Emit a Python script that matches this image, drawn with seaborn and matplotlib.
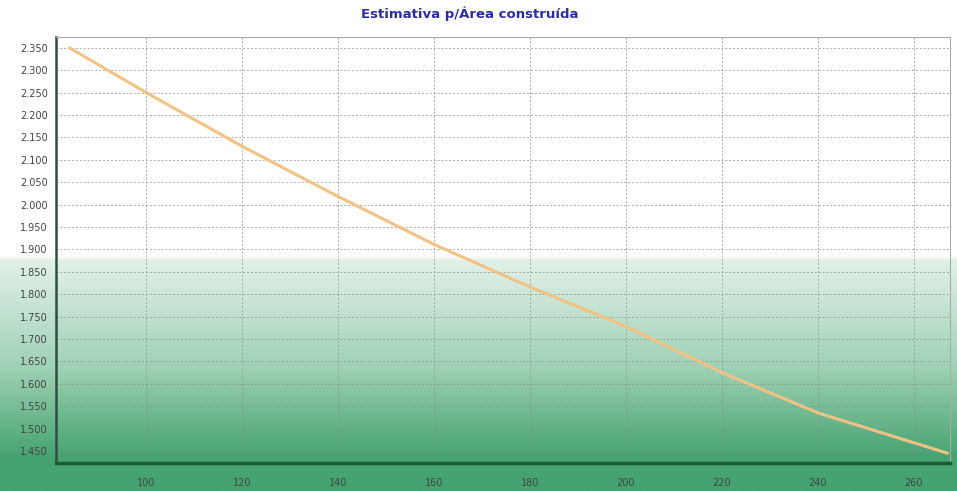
import numpy as np
import pandas as pd
import matplotlib
matplotlib.use('Agg')
from matplotlib import pyplot as plt
from matplotlib.colors import LinearSegmentedColormap
from matplotlib.ticker import FuncFormatter
import seaborn as sns

# Data
area = [84, 100, 120, 140, 160, 180, 200, 220, 240, 267]
estimativa = [2350, 2250, 2130, 2018, 1911, 1816, 1728, 1625, 1535, 1445]
x_ticks = [100, 120, 140, 160, 180, 200, 220, 240, 260]
y_ticks = list(range(1450, 2351, 50))

df = pd.DataFrame({'Area': area, 'Estimativa': estimativa})

sns.set_theme(style='white')
plt.rcParams['font.family'] = ['DejaVu Sans']

fig = plt.figure(figsize=(9.57, 4.91), dpi=100)

# background gradient: white on top, green towards the bottom
bg = fig.add_axes([0, 0, 1, 1], zorder=0)
bg.set_axis_off()
cmap = LinearSegmentedColormap.from_list('bg', [
    (0.0, '#ffffff'), (0.52, '#ffffff'), (0.53, '#e2f1e8'),
    (0.75, '#9fd1b5'), (0.93, '#47a373'), (1.0, '#45a271')])
grad = np.linspace(0, 1, 500).reshape(-1, 1)
bg.imshow(grad, aspect='auto', cmap=cmap, extent=[0, 1, 0, 1], origin='upper')
bg.set_xlim(0, 1)
bg.set_ylim(0, 1)

ax = fig.add_axes([0.0585, 0.057, 0.934, 0.8676], zorder=1)
ax.patch.set_alpha(0)

sns.lineplot(data=df, x='Area', y='Estimativa', ax=ax, color='#f2c285', linewidth=2.2)

ax.set_xlim(81.2, 267.5)
ax.set_ylim(1423, 2374)
ax.set_xticks(x_ticks)
ax.set_yticks(y_ticks)
ax.yaxis.set_major_formatter(FuncFormatter(lambda v, p: f'{int(v):,}'.replace(',', '.')))
ax.tick_params(axis='both', labelsize=7, colors='#444444', length=3, direction='out')
ax.tick_params(axis='y', pad=3)
ax.tick_params(axis='x', pad=8)
ax.set_xlabel('')
ax.set_ylabel('')
ax.grid(True, linestyle=(0, (2, 2)), color='#8a8a8a', linewidth=0.7, alpha=0.7)

for s in ['top', 'right']:
    ax.spines[s].set_color('#aaaaaa')
    ax.spines[s].set_linewidth(0.8)
    ax.spines[s].set_linestyle((0, (2, 1)))
ax.spines['left'].set_color('#2f4f3f')
ax.spines['left'].set_linewidth(1.8)
ax.spines['bottom'].set_color('#1f5a35')
ax.spines['bottom'].set_linewidth(2.5)

fig.text(0.491, 0.972, 'Estimativa p/Área construída', ha='center', va='center',
         fontsize=9.5, fontweight='bold', color='#2b2f9e')

fig.savefig('out.png', dpi=100)
